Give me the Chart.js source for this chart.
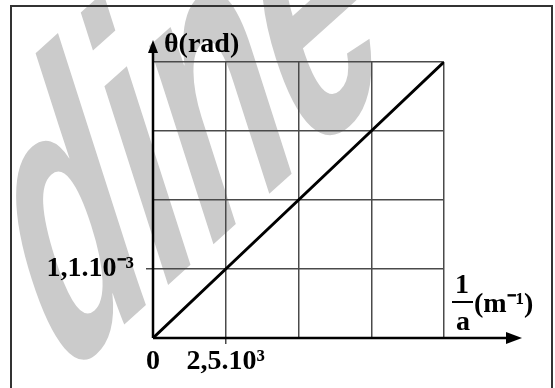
<!DOCTYPE html>
<html>
<head>
<meta charset="utf-8">
<script src="https://cdn.jsdelivr.net/npm/chart.js@4"></script>
<style>
  body { margin: 0; background: #fff; }
  canvas { display: block; }
</style>
</head>
<body>
<canvas id="chart" width="555" height="388"></canvas>
<script>
// 1/a in m^-1, theta in rad
const invA = [0, 2500, 5000, 7500, 10000];
const theta = [0, 0.0011, 0.0022, 0.0033, 0.0044];
const xTickLabels = ["0", "2,5.10³", "", "", ""];
const yTickLabels = ["", "1,1.10⁻³", "", "", ""];

const serif = "'Liberation Serif', 'Times New Roman', serif";
Chart.defaults.font.family = serif;

const gridColor = "#4a4a4a";

const extras = {
  id: "extras",
  beforeDraw(chart) {
    const c = chart.ctx;
    c.save();
    c.fillStyle = "#fff";
    c.fillRect(0, 0, chart.width, chart.height);
    // watermark
    c.fillStyle = "#cbcbcb";
    c.translate(57, 385);
    c.rotate(-42 * Math.PI / 180);
    c.transform(1, 0, -0.45, 1, 0, 0);
    c.scale(0.61, 1);
    c.font = "bold 360px 'Liberation Sans', Arial, sans-serif";
    c.textBaseline = "alphabetic";
    c.fillText("dine", 0, 0);
    c.restore();
  },
  afterDraw(chart) {
    const c = chart.ctx;
    const x0 = chart.scales.x.getPixelForValue(0);
    const y0 = chart.scales.y.getPixelForValue(0);
    c.save();
    // frame
    c.strokeStyle = "#333";
    c.lineWidth = 2;
    c.strokeRect(11, 6, 541, 400);
    // axes
    c.strokeStyle = "#000";
    c.fillStyle = "#000";
    c.lineWidth = 2.5;
    c.beginPath();
    c.moveTo(x0, y0);
    c.lineTo(x0, 50);
    c.moveTo(x0, y0);
    c.lineTo(510, y0);
    c.stroke();
    c.beginPath();
    c.moveTo(x0, 40);
    c.lineTo(x0 - 5, 53);
    c.lineTo(x0 + 5, 53);
    c.closePath();
    c.fill();
    c.beginPath();
    c.moveTo(522, y0);
    c.lineTo(506, y0 - 6);
    c.lineTo(506, y0 + 6);
    c.closePath();
    c.fill();
    // axis titles
    c.font = "bold 28px " + serif;
    c.textBaseline = "alphabetic";
    c.textAlign = "left";
    c.fillText("θ(rad)", 164, 52);
    c.textAlign = "center";
    c.fillText("1", 462, 293);
    c.fillText("a", 463, 330);
    c.fillRect(452, 301, 21, 2);
    c.textAlign = "left";
    c.fillText("(m⁻¹)", 474, 312);
    c.restore();
  }
};

new Chart(document.getElementById("chart"), {
  type: "line",
  data: {
    datasets: [{
      data: invA.map((v, i) => ({ x: v, y: theta[i] })),
      borderColor: "#000",
      borderWidth: 3,
      pointRadius: 0,
      tension: 0
    }]
  },
  options: {
    responsive: false,
    animation: false,
    layout: { padding: { top: 62, right: 111, left: 0, bottom: 0 } },
    plugins: { legend: { display: false }, tooltip: { enabled: false } },
    scales: {
      x: {
        type: "linear",
        min: 0,
        max: 10000,
        afterFit: (s) => { s.height = 50; },
        ticks: {
          stepSize: 2500,
          autoSkip: false,
          padding: 1,
          maxRotation: 0,
          color: "#000",
          font: { size: 28, weight: "bold" },
          callback: (v, i) => xTickLabels[i]
        },
        grid: {
          color: gridColor,
          lineWidth: 1.5,
          tickLength: 6,
          tickColor: (ctx) => (ctx.index === 1 ? gridColor : "rgba(0,0,0,0)")
        },
        border: { display: false }
      },
      y: {
        min: 0,
        max: 0.0044,
        afterFit: (s) => { s.width = 153; },
        ticks: {
          stepSize: 0.0011,
          autoSkip: false,
          padding: 12,
          color: "#000",
          font: { size: 28, weight: "bold" },
          callback: (v, i) => yTickLabels[i]
        },
        grid: {
          color: gridColor,
          lineWidth: 1.5,
          tickLength: 7,
          tickColor: (ctx) => (ctx.index === 1 ? gridColor : "rgba(0,0,0,0)")
        },
        border: { display: false }
      }
    }
  },
  plugins: [extras]
});
</script>
</body>
</html>
